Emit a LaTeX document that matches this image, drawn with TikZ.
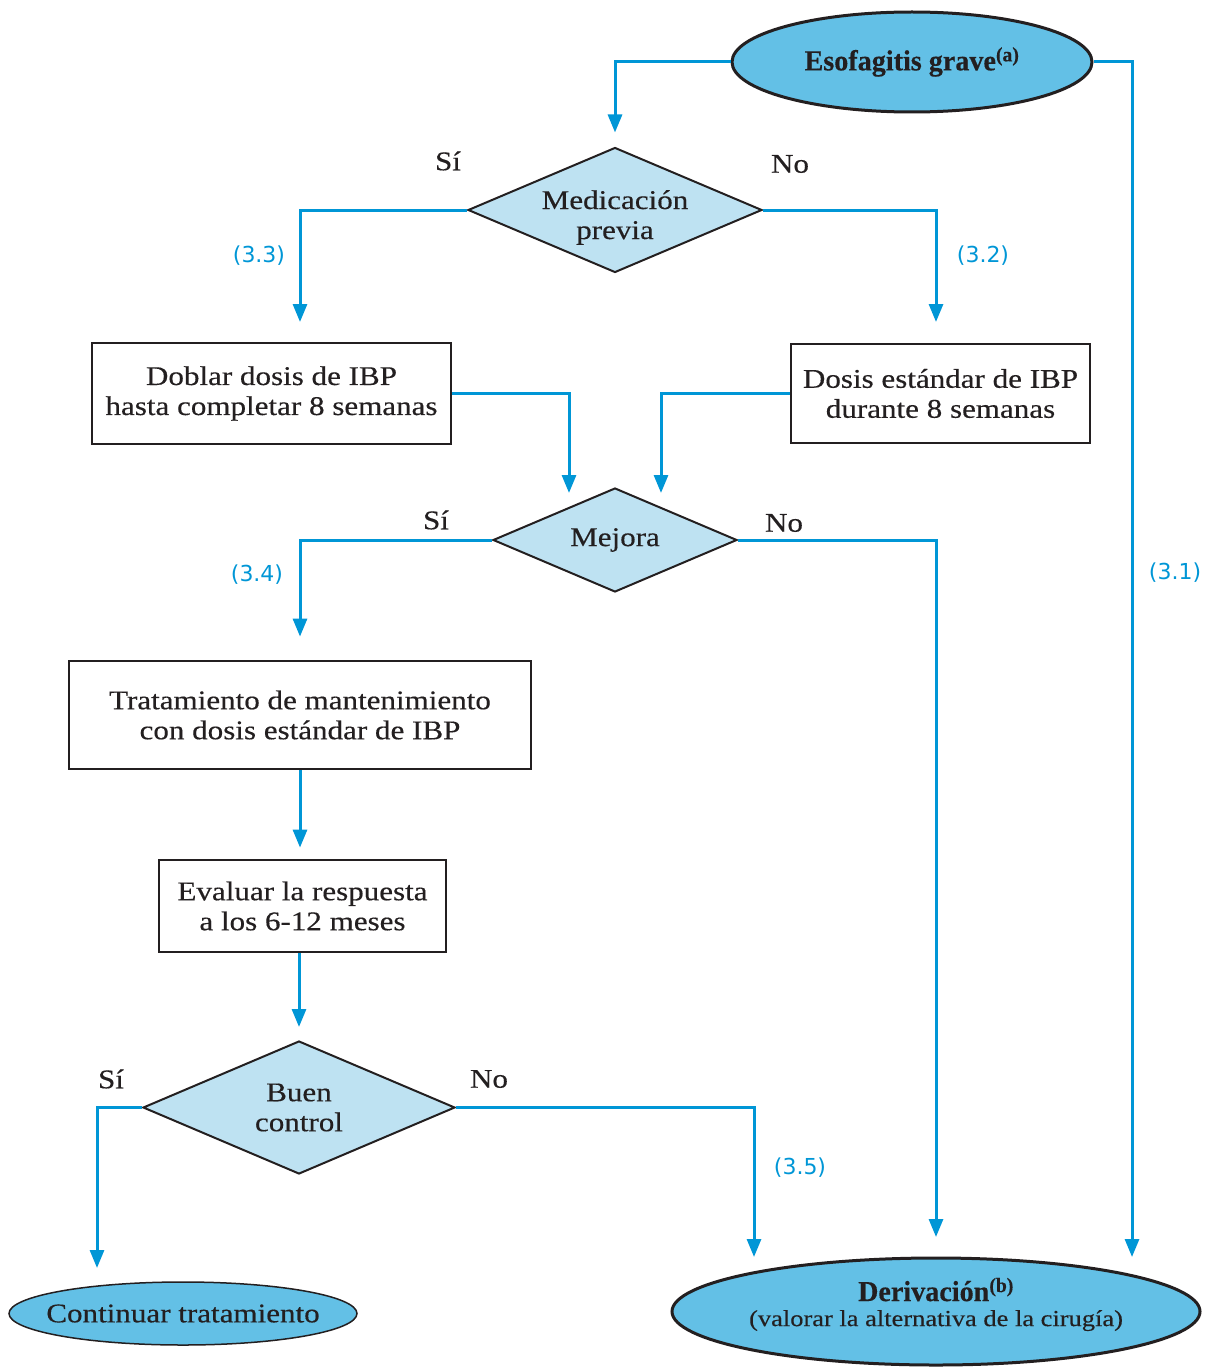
\documentclass[tikz,border=0pt]{standalone}
\usepackage{fontspec}
\setmainfont[FakeStretch=1.15,FakeBold=0.35,BoldFeatures={FakeStretch=0.97,FakeBold=0.3}]{Liberation Serif}
\newfontfamily\labfont{DejaVu Sans}
\usetikzlibrary{shapes.geometric,arrows.meta,calc}
\definecolor{lineblue}{RGB}{0,150,214}
\definecolor{ovalfill}{RGB}{99,192,230}
\definecolor{diafill}{RGB}{190,226,242}
\definecolor{ink}{RGB}{35,31,32}
\begin{document}
\begin{tikzpicture}[x=1pt,y=-1pt,
 every node/.style={font=\fontsize{27}{30}\selectfont,text=ink},
 box/.style={draw=ink,line width=2.8pt,fill=white,align=center,inner sep=0pt},
 dec/.style={shape=diamond,draw=ink,line width=2pt,fill=diafill,align=center,inner sep=-4pt,aspect=2.35},
 oval/.style={shape=ellipse,draw=ink,line width=3pt,fill=ovalfill,align=center,inner xsep=-100pt,inner ysep=0pt},
 conn/.style={draw=lineblue,line width=3pt,-{Triangle[width=14pt,length=18pt]}},
 lbl/.style={font=\labfont\fontsize{22}{24}\selectfont,text=lineblue},
 yn/.style={font=\fontsize{27}{30}\selectfont}]
\useasboundingbox (0,0) rectangle (1205,1367);

% nodes
\node[oval,minimum width=360pt,minimum height=100pt] (esof) at (912,62) {\fontsize{29}{32}\selectfont\bfseries Esofagitis grave\textsuperscript{(a)}};
\node[dec,minimum width=294pt,minimum height=125pt] (med) at (615,210) {\raisebox{-8pt}[\height][\depth]{\begin{tabular}{@{}c@{}}Medicación\\previa\end{tabular}}};
\node[box,minimum width=359pt,minimum height=101pt] (doblar) at (271.5,393.5) {Doblar dosis de IBP\\hasta completar 8 semanas};
\node[box,minimum width=299pt,minimum height=99pt] (dosis) at (940.5,393.5) {Dosis estándar de IBP\\durante 8 semanas};
\node[dec,minimum width=244pt,minimum height=104pt] (mejora) at (615,540) {Mejora};
\node[box,minimum width=462pt,minimum height=108pt] (trat) at (300,715) {Tratamiento de mantenimiento\\con dosis estándar de IBP};
\node[box,minimum width=287pt,minimum height=92pt] (eval) at (302.5,906) {Evaluar la respuesta\\a los 6-12 meses};
\node[dec,minimum width=312pt,minimum height=133pt] (buen) at (299,1107.5) {Buen\\control};
\node[oval,minimum width=348pt,minimum height=63pt,line width=1.5pt] (cont) at (183,1313.5) {Continuar tratamiento};
\node[oval,minimum width=528pt,minimum height=107pt] (deriv) at (936,1311.5) {\raisebox{5pt}[\height][\depth]{\begin{tabular}{@{}c@{}}{\fontsize{29}{30}\selectfont\bfseries Derivación\textsuperscript{(b)}}\\[-5pt]{\fontsize{23}{26}\selectfont(valorar la alternativa de la cirugía)}\end{tabular}}};

% arrow tip coordinates
\coordinate (t33) at (300,322);
\coordinate (t32) at (936,322);
\coordinate (tD1) at (569,493);
\coordinate (tD2) at (661,493);
\coordinate (tM) at (936,1237);
\coordinate (t31) at (1132,1257);
\coordinate (t35) at (754,1257);
\coordinate (tC) at (97,1268);

% connectors
\draw[conn,shorten >=14pt] (esof.west) -| (med.north);
\draw[conn] (esof.east) -| (t31);
\draw[conn] (med.west) -| (t33);
\draw[conn] (med.east) -| (t32);
\draw[conn] (doblar.east) -| (tD1);
\draw[conn] (dosis.west) -| (tD2);
\draw[conn,shorten >=23pt] (mejora.west) -| (trat.north);
\draw[conn] (mejora.east) -| (tM);
\draw[conn,shorten >=11pt] (trat.south) -- (trat.south |- eval.north);
\draw[conn,shorten >=13pt] (buen.north |- eval.south) -- (buen.north);
\draw[conn] (buen.west) -| (tC);
\draw[conn] (buen.east) -| (t35);

% labels
\node[yn] (s1) at (448,161) {Sí};
\node[yn] (n1) at (790,164) {No};
\node[yn] (s2) at (436,520) {Sí};
\node[yn] (n2) at (784,523) {No};
\node[yn] (s3) at (111,1079) {Sí};
\node[yn] (n3) at (489,1079) {No};
\node[lbl] (l33) at (259,256) {(3.3)};
\node[lbl] (l32) at (983,256) {(3.2)};
\node[lbl] (l34) at (257,575) {(3.4)};
\node[lbl] (l35) at (800,1168) {(3.5)};
\node[lbl] (l31) at (1175,573) {(3.1)};
\end{tikzpicture}
\end{document}
